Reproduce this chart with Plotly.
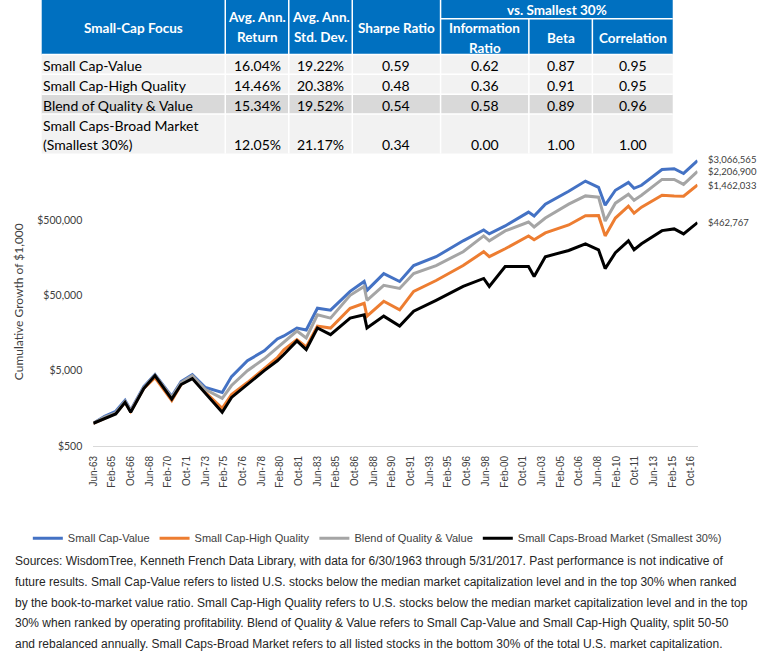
import math
import plotly.graph_objects as go

W, H = 765, 672

# ---------------- data ----------------
dates = ["1963-06", "1964-06", "1965-06", "1966-04", "1966-10", "1967-12", "1968-12", "1970-06",
         "1971-04", "1972-04", "1973-06", "1974-12", "1975-10", "1977-03", "1978-09", "1979-11",
         "1980-06", "1981-08", "1982-06", "1983-06", "1984-08", "1986-05", "1987-08", "1987-11",
         "1989-05", "1990-10", "1992-01", "1994-01", "1996-06", "1998-04", "1998-10", "2000-03",
         "2002-04", "2002-10", "2003-10", "2005-11", "2007-05", "2008-07", "2009-02", "2010-01",
         "2011-03", "2011-09", "2012-05", "2014-03", "2015-04", "2016-02", "2017-05"]

small_cap_value = [1000, 1241, 1445, 2014, 1489, 3078, 4430, 2275, 3581, 4430,
                   2986, 2570, 4169, 6770, 9165, 13180, 14450, 18400, 17300, 33730,
                   31770, 56450, 76380, 58210, 97290, 76380, 124200, 162900, 264800, 369000,
                   327300, 416900, 636800, 564900, 812800, 1205000, 1644000, 1358000, 787000, 1242000,
                   1581000, 1318000, 1445000, 2344000, 2400000, 2075000, 3066565]

small_cap_high_quality = [1000, 1167, 1359, 1897, 1445, 2898, 4046, 2014, 3273, 4046,
                          2570, 1581, 2415, 3475, 5309, 7413, 9441, 12900, 10350, 19540,
                          18400, 33730, 39260, 26480, 41690, 32060, 56450, 78700, 124200, 189700,
                          162900, 207500, 307600, 272900, 337300, 429500, 570000, 575000, 307600, 531000,
                          763800, 618000, 741300, 1067000, 1045000, 1035000, 1462033]

blend_quality_value = [1000, 1205, 1380, 1954, 1445, 2986, 4365, 2207, 3475, 4297,
                       2812, 2142, 3175, 5000, 7190, 10040, 11680, 16790, 13590, 27540,
                       24900, 50000, 65610, 42970, 67760, 61800, 97290, 124200, 189700, 307600,
                       264800, 358100, 471000, 404600, 531000, 812800, 1045000, 1005000, 485300, 837500,
                       1099000, 916200, 1067000, 1730000, 1730000, 1489000, 2206900]

small_caps_broad = [1000, 1167, 1330, 1897, 1400, 2898, 4297, 2096, 3273, 3926,
                    2490, 1400, 2207, 3302, 5000, 6770, 8190, 12410, 9530, 18400,
                    15030, 24900, 27540, 18400, 26480, 19540, 30780, 42970, 65610, 83750,
                    65610, 120500, 120500, 88920, 162900, 197200, 241500, 201400, 113200, 184000,
                    264800, 201400, 241500, 361400, 381000, 327300, 462767]

series_names = ["Small Cap-Value", "Small Cap-High Quality", "Blend of Quality & Value",
                "Small Caps-Broad Market (Smallest 30%)"]
series_values = [small_cap_value, small_cap_high_quality, blend_quality_value, small_caps_broad]
series_colors = ["#4472C4", "#ED7D31", "#A5A5A5", "#000000"]

x_tick_labels = ["Jun-63", "Feb-65", "Oct-66", "Jun-68", "Feb-70", "Oct-71", "Jun-73", "Feb-75",
                 "Oct-76", "Jun-78", "Feb-80", "Oct-81", "Jun-83", "Feb-85", "Oct-86", "Jun-88",
                 "Feb-90", "Oct-91", "Jun-93", "Feb-95", "Oct-96", "Jun-98", "Feb-00", "Oct-01",
                 "Jun-03", "Feb-05", "Oct-06", "Jun-08", "Feb-10", "Oct-11", "Jun-13", "Feb-15", "Oct-16"]

y_tick_vals = [500, 5000, 50000, 500000]
y_tick_labels = ["$500", "$5,000", "$50,000", "$500,000"]

table_labels = ["Small Cap-Value", "Small Cap-High Quality", "Blend of Quality & Value",
                "Small Caps-Broad Market\n(Smallest 30%)"]
avg_ann_return = [16.04, 14.46, 15.34, 12.05]
avg_ann_std = [19.22, 20.38, 19.52, 21.17]
sharpe_ratio = [0.59, 0.48, 0.54, 0.34]
information_ratio = [0.62, 0.36, 0.58, 0.00]
beta = [0.87, 0.91, 0.89, 1.00]
correlation = [0.95, 0.95, 0.96, 1.00]

footnote_lines = [
    "Sources: WisdomTree, Kenneth French Data Library, with data for 6/30/1963 through 5/31/2017. Past performance is not indicative of",
    "future results. Small Cap-Value refers to listed U.S. stocks below the median market capitalization level and in the top 30% when ranked",
    "by the book-to-market value ratio. Small Cap-High Quality refers to U.S. stocks below the median market capitalization level and in the top",
    "30% when ranked by operating profitability. Blend of Quality & Value refers to Small Cap-Value and Small Cap-High Quality, split 50-50",
    "and rebalanced annually. Small Caps-Broad Market refers to all listed stocks in the bottom 30% of the total U.S. market capitalization.",
]

# ---------------- helpers ----------------
MONTHS = {m: i + 1 for i, m in enumerate(["Jan", "Feb", "Mar", "Apr", "May", "Jun",
                                          "Jul", "Aug", "Sep", "Oct", "Nov", "Dec"])}


def label_to_date(lbl):
    mon, yy = lbl.split("-")
    yy = int(yy)
    year = 1900 + yy if yy >= 50 else 2000 + yy
    return f"{year}-{MONTHS[mon]:02d}-01"


def px(x):
    return x / W


def py(y):
    return 1 - y / H


CAL = "Lato, Calibri, Carlito, sans-serif"
ARIAL = "Liberation Sans, Arial, sans-serif"
TXT = "#404040"

fig = go.Figure()
for name, vals, col in zip(series_names, series_values, series_colors):
    fig.add_trace(go.Scatter(x=[d + "-01" for d in dates], y=vals, mode="lines", name=name,
                             line=dict(color=col, width=3), hoverinfo="x+y"))

shapes = []
annotations = []

# ---- table ----
col_edges = [36, 221, 285, 349, 438, 527, 591, 672]
row_edges = [55, 75, 95, 115, 155]
row_fills = ["#F2F2F2", "#F2F2F2", "#D9D9D9", "#F2F2F2"]
HEAD = "#0070C0"


def rect(x0, y0, x1, y1, fill):
    shapes.append(dict(type="rect", xref="paper", yref="paper", x0=px(x0), x1=px(x1),
                       y0=py(y1), y1=py(y0), fillcolor=fill, line=dict(width=0), layer="above"))


def wline(x0, y0, x1, y1, w=1.5):
    shapes.append(dict(type="line", xref="paper", yref="paper", x0=px(x0), x1=px(x1),
                       y0=py(y0), y1=py(y1), line=dict(color="white", width=w), layer="above"))


def text(x, y, s, size=13.5, color="black", anchor="center", bold=False, family=CAL):
    annotations.append(dict(x=px(x), y=py(y), xref="paper", yref="paper", text=(f"<b>{s}</b>" if bold else s),
                            showarrow=False, xanchor=anchor, yanchor="middle",
                            font=dict(family=family, size=size, color=color)))


rect(col_edges[0], 0, col_edges[-1], 55, HEAD)
for i in range(4):
    rect(col_edges[0], row_edges[i], col_edges[-1], row_edges[i + 1], row_fills[i])
for xe in col_edges[1:5]:
    wline(xe, 0, xe, 55)
for xe in col_edges[5:7]:
    wline(xe, 19, xe, 55)
wline(col_edges[4], 19, col_edges[-1], 19)
for xe in col_edges[1:-1]:
    wline(xe, 55, xe, 155)
for ye in row_edges[:-1]:
    wline(col_edges[0], ye, col_edges[-1], ye)

cc = [(col_edges[i] + col_edges[i + 1]) / 2 for i in range(len(col_edges) - 1)]
HS = 13.5
text(cc[0], 28, "Small-Cap Focus", HS, "white", bold=True)
text(cc[1], 17, "Avg. Ann.", HS, "white", bold=True)
text(cc[1], 37, "Return", HS, "white", bold=True)
text(cc[2], 17, "Avg. Ann.", HS, "white", bold=True)
text(cc[2], 37, "Std. Dev.", HS, "white", bold=True)
text(cc[3], 28, "Sharpe Ratio", HS, "white", bold=True)
text((col_edges[4] + col_edges[7]) / 2, 10, "vs. Smallest 30%", HS, "white", bold=True)
text(cc[4], 28, "Information", HS, "white", bold=True)
text(cc[4], 48, "Ratio", HS, "white", bold=True)
text(cc[5], 38, "Beta", HS, "white", bold=True)
text(cc[6], 38, "Correlation", HS, "white", bold=True)

row_y = [66, 86, 106, 146]
DS = 14
for i, lbl in enumerate(table_labels):
    parts = lbl.split("\n")
    if len(parts) == 1:
        text(35, row_y[i], parts[0], DS, "black", anchor="left")
    else:
        text(35, 127, parts[0], DS, "black", anchor="left")
        text(35, 146, parts[1], DS, "black", anchor="left")
    vals = [f"{avg_ann_return[i]:.2f}%", f"{avg_ann_std[i]:.2f}%", f"{sharpe_ratio[i]:.2f}",
            f"{information_ratio[i]:.2f}", f"{beta[i]:.2f}", f"{correlation[i]:.2f}"]
    for j, v in enumerate(vals):
        text(cc[j + 1], row_y[i], v, DS, "black")

# ---- y axis title ----
annotations.append(dict(x=px(12), y=py(304), xref="paper", yref="paper", text="Cumulative Growth of $1,000",
                        textangle=-90, showarrow=False, xanchor="center", yanchor="middle",
                        font=dict(family=CAL, size=12, color=TXT)))

# ---- end-of-line value labels ----
label_yshift = [1.5, -0.5, 0, 0]
for vals, ys in zip(series_values, label_yshift):
    annotations.append(dict(x=dates[-1] + "-01", y=math.log10(vals[-1]), xref="x", yref="y",
                            text=f"${vals[-1]:,.0f}", showarrow=False, xanchor="left", yanchor="middle",
                            xshift=9, yshift=ys, borderpad=0,
                            font=dict(family=CAL, size=9.5, color=TXT)))

# ---- footnote ----
for k, line in enumerate(footnote_lines):
    text(7, 566 + 21 * k, line, 12, "#262626", anchor="left", family=ARIAL)

y_bottom_px, y_top_px, px_per_decade = 450, 155, 76
y_lo = math.log10(500)
y_hi = y_lo + (y_bottom_px - y_top_px) / px_per_decade

fig.update_layout(
    width=W, height=H,
    margin=dict(l=0, r=0, t=0, b=0),
    paper_bgcolor="white", plot_bgcolor="white",
    showlegend=True,
    legend=dict(orientation="h", x=px(22), y=py(543), xanchor="left", yanchor="middle",
                font=dict(family=ARIAL, size=11, color=TXT), bgcolor="rgba(0,0,0,0)",
                itemwidth=30, traceorder="normal"),
    xaxis=dict(type="date", domain=[px(88), px(697)], range=["1963-06-01", "2017-05-01"],
               tickvals=[label_to_date(l) for l in x_tick_labels], ticktext=x_tick_labels,
               tickangle=-90, tickfont=dict(family=ARIAL, size=10, color=TXT),
               showgrid=False, zeroline=False, showline=True, linecolor="#D9D9D9", linewidth=1,
               ticks="", ticklabelstandoff=5),
    yaxis=dict(type="log", domain=[py(y_bottom_px), py(y_top_px)], range=[y_lo, y_hi],
               tickvals=y_tick_vals, ticktext=y_tick_labels,
               tickfont=dict(family=CAL, size=10.5, color=TXT),
               showgrid=False, zeroline=False, showline=False, ticks="", ticklabelstandoff=10),
    shapes=shapes, annotations=annotations,
)

fig.write_html("out.html")
